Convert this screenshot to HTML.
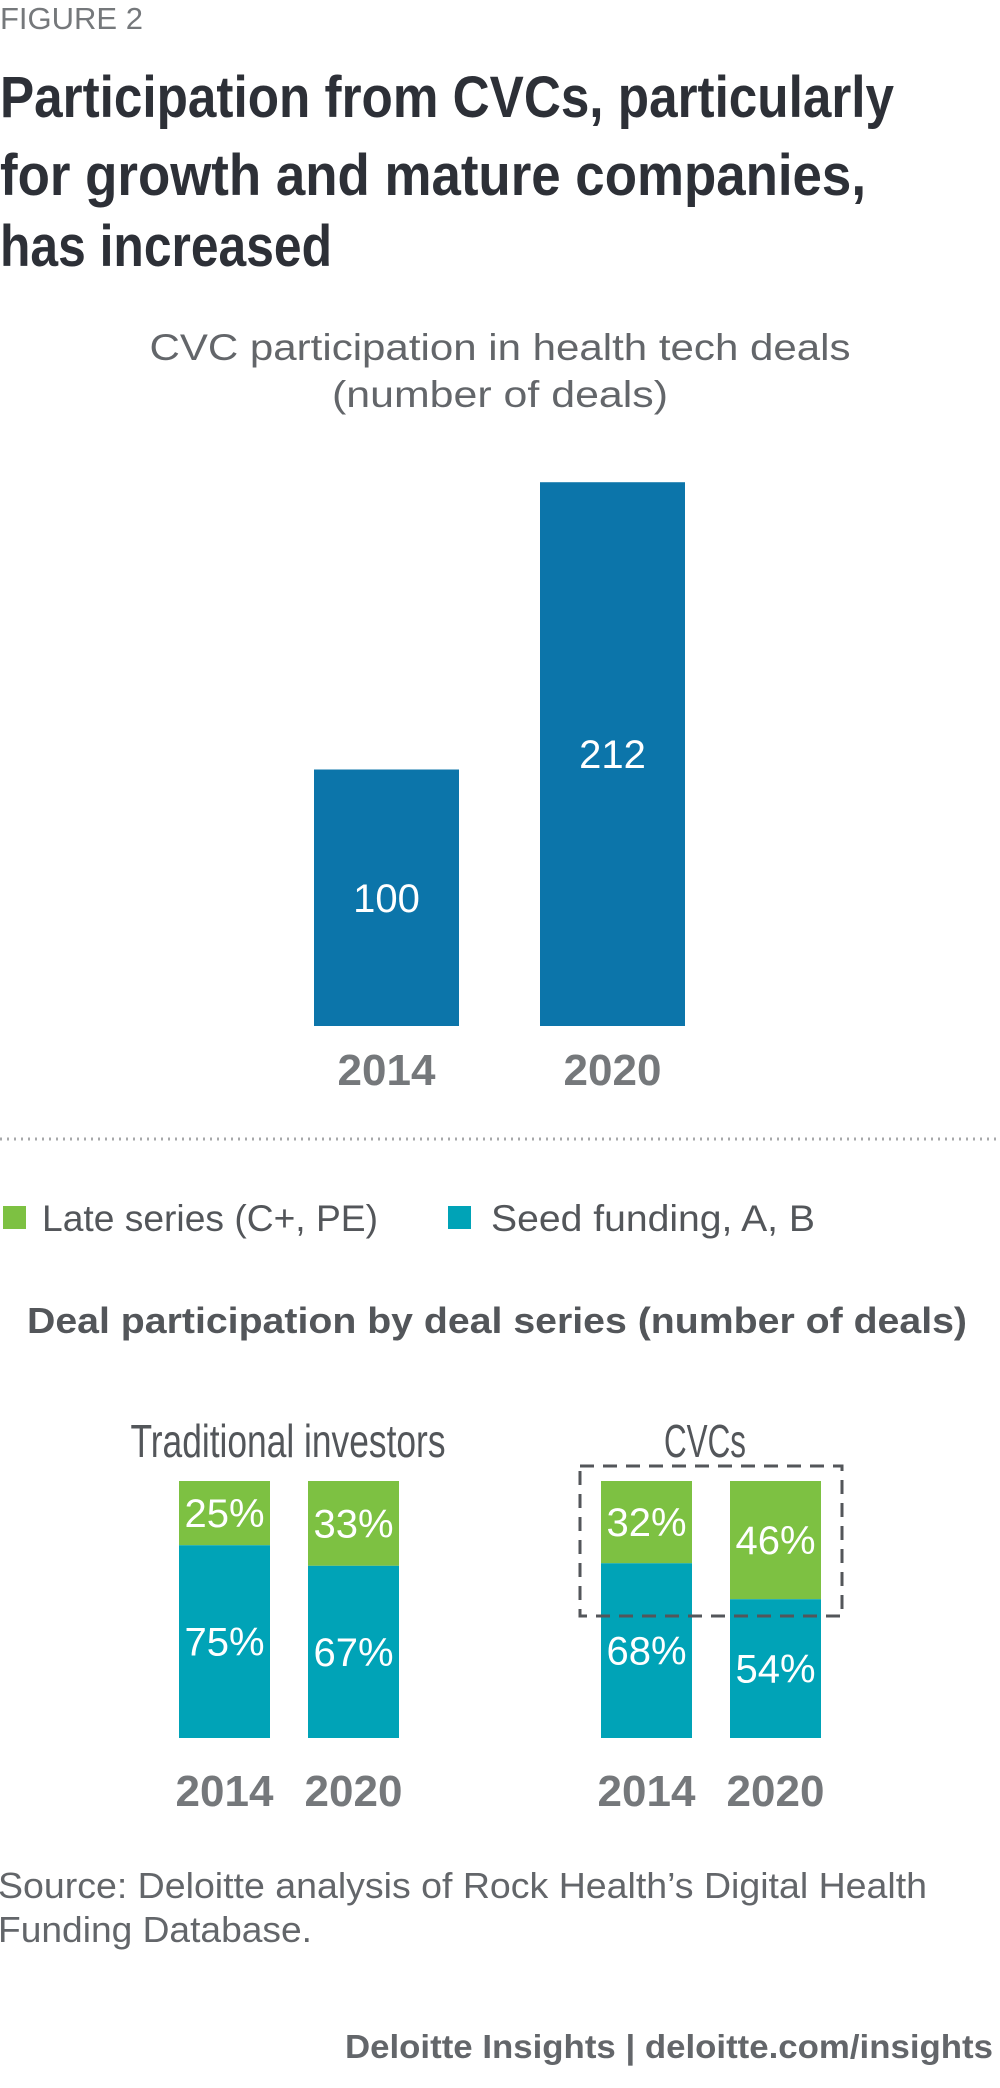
<!DOCTYPE html>
<html><head><meta charset="utf-8">
<style>
html,body{margin:0;padding:0;background:#fff;}
svg{display:block;}
.sans{font-family:"Liberation Sans",sans-serif;}
.narrow{font-family:"Liberation Sans Narrow","Liberation Sans",sans-serif;}
</style></head>
<body>
<svg id="chart" width="1000" height="2088" viewBox="0 0 1000 2088" xmlns="http://www.w3.org/2000/svg">
<text x="0" y="29" class="sans" font-size="31" fill="#75787b">FIGURE 2</text>
<g class="narrow" font-weight="bold" font-size="58" fill="#2d3037">
<text x="0" y="117" textLength="894" lengthAdjust="spacingAndGlyphs">Participation from CVCs, particularly</text>
<text x="0" y="195" textLength="866" lengthAdjust="spacingAndGlyphs">for growth and mature companies,</text>
<text x="0" y="266" textLength="332" lengthAdjust="spacingAndGlyphs">has increased</text>
</g>
<g class="sans" font-size="37" fill="#63666a" text-anchor="middle">
<text x="500" y="360" textLength="701" lengthAdjust="spacingAndGlyphs">CVC participation in health tech deals</text>
<text x="500" y="407" textLength="336" lengthAdjust="spacingAndGlyphs">(number of deals)</text>
</g>
<g id="top"></g>
<line x1="0" y1="1139" x2="1000" y2="1139" stroke="#a7a8aa" stroke-width="3" stroke-dasharray="2 5"/>
<g>
<g>
<rect x="3" y="1206" width="23" height="23" fill="#7dc142"/>
<text x="42" y="1231" class="sans" font-size="37" fill="#53565a" textLength="336" lengthAdjust="spacingAndGlyphs">Late series (C+, PE)</text>
</g>
<g>
<rect x="448" y="1206" width="23" height="23" fill="#00a3b7"/>
<text x="491" y="1231" class="sans" font-size="37" fill="#53565a" textLength="324" lengthAdjust="spacingAndGlyphs">Seed funding, A, B</text>
</g>
</g>
<text x="27" y="1333" class="sans" font-weight="bold" font-size="36" fill="#53565a" textLength="940" lengthAdjust="spacingAndGlyphs">Deal participation by deal series (number of deals)</text>
<text x="288" y="1457" class="narrow" font-size="46" fill="#53565a" text-anchor="middle" textLength="315" lengthAdjust="spacingAndGlyphs">Traditional investors</text>
<text x="705" y="1457" class="narrow" font-size="46" fill="#53565a" text-anchor="middle" textLength="82" lengthAdjust="spacingAndGlyphs">CVCs</text>
<g id="bottom"></g>
<rect x="580" y="1466" width="262" height="150" fill="none" stroke="#53565a" stroke-width="3" stroke-dasharray="14 9"/>
<g class="sans" font-size="36" fill="#63666a">
<text x="-2" y="1898" textLength="929" lengthAdjust="spacingAndGlyphs">Source: Deloitte analysis of Rock Health’s Digital Health</text>
<text x="-2" y="1942" textLength="314" lengthAdjust="spacingAndGlyphs">Funding Database.</text>
</g>
<text x="993" y="2058" class="sans" font-weight="bold" font-size="33" fill="#63666a" text-anchor="end" textLength="648" lengthAdjust="spacingAndGlyphs">Deloitte Insights | deloitte.com/insights</text>
</svg>
<script>
const topYears = ["2014", "2020"];
const topValues = [100, 212];
const groups = ["Traditional investors", "Traditional investors", "CVCs", "CVCs"];
const bottomYears = ["2014", "2020", "2014", "2020"];
const lateShare = [25, 33, 32, 46];
const seedShare = [75, 67, 68, 54];

const NS = "http://www.w3.org/2000/svg";
function mk(tag, attrs, parent){ const e=document.createElementNS(NS,tag); for(const k in attrs) e.setAttribute(k,attrs[k]); parent.appendChild(e); return e; }

const topBase = 1026, topScale = 2.565;
const yTop = v => topBase - v*topScale;
const xTop = i => 314 + i*226;
const topW = 145;
const gTop = document.getElementById("top");
topValues.forEach((v,i)=>{
  const r = mk("rect",{x:xTop(i),y:yTop(v),width:topW,height:topBase-yTop(v),fill:"#0c75aa"},gTop);
  
  
  const t = mk("text",{x:xTop(i)+topW/2,y:(yTop(v)+topBase)/2+14,"font-size":40,fill:"#fff","text-anchor":"middle","class":"sans"},gTop);
  t.textContent = v;
  
  
  const y = mk("text",{x:xTop(i)+topW/2,y:1085,"font-size":44,"font-weight":"bold",fill:"#75787b","text-anchor":"middle","class":"narrow"},gTop);
  y.textContent = topYears[i];
  
  
});

const botTop = 1481, botBase = 1738, botH = botBase - botTop;
const yPct = p => botTop + p/100*botH;
const xBot = [179, 308, 601, 730];
const botW = 91;
const gBot = document.getElementById("bottom");
lateShare.forEach((p,i)=>{
  const split = yPct(p);
  const g = mk("rect",{x:xBot[i],y:botTop,width:botW,height:split-botTop,fill:"#7dc142"},gBot);
  
  
  const s = mk("rect",{x:xBot[i],y:split,width:botW,height:botBase-split,fill:"#00a3b7"},gBot);
  
  
  const lt = mk("text",{x:xBot[i]+botW/2,y:(botTop+split)/2+14,"font-size":40,fill:"#fff","text-anchor":"middle","class":"sans"},gBot);
  lt.textContent = p + "%";
  
  
  const st = mk("text",{x:xBot[i]+botW/2,y:(split+botBase)/2+14,"font-size":40,fill:"#fff","text-anchor":"middle","class":"sans"},gBot);
  st.textContent = seedShare[i] + "%";
  
  
  const yl = mk("text",{x:xBot[i]+botW/2,y:1806,"font-size":44,"font-weight":"bold",fill:"#75787b","text-anchor":"middle","class":"narrow"},gBot);
  yl.textContent = bottomYears[i];
  
  
});
</script>
</body></html>
